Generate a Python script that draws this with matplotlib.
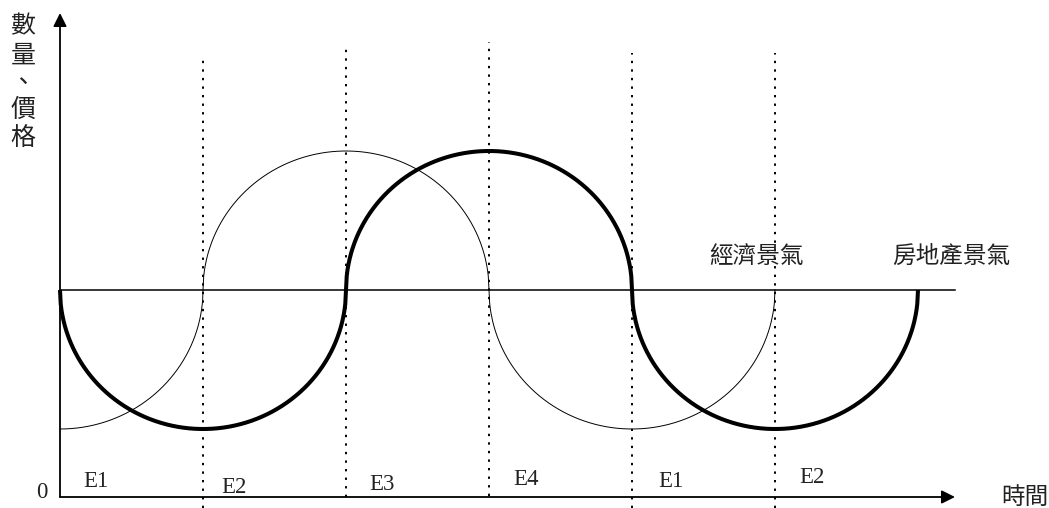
import numpy as np
import matplotlib
matplotlib.use("Agg")
import matplotlib.pyplot as plt

plt.rcParams['font.family'] = ['Noto Sans CJK TC', 'DejaVu Sans']

# ---- data (abstract units: 1 x-unit = one phase, 1 y-unit = cycle amplitude) ----
econ_centers = [0, 2, 4]          # 經濟景氣 half-cycle centres
econ_signs = [-1, 1, -1]
econ_starts = [0, 1, 3]
econ_ends = [1, 3, 5]

estate_centers = [1, 3, 5]        # 房地產景氣 half-cycle centres
estate_signs = [-1, 1, -1]
estate_starts = [0, 2, 4]
estate_ends = [2, 4, 6]

divider_x = [1, 2, 3, 4, 5]
divider_top = [1.66, 1.75, 1.785, 1.705, 1.705]
divider_bottom = [-1.57, -1.49, -1.48, -1.57, -1.57]

phase_labels = ['E1', 'E2', 'E3', 'E4', 'E1', 'E2']
phase_label_x = [0.25, 1.22, 2.25, 3.26, 4.27, 5.26]
phase_label_y = [-1.38, -1.42, -1.4, -1.36, -1.38, -1.35]

ylabel_chars = ['數', '量', '、', '價', '格']


def semicircle_curve(centers, signs, starts, ends):
    xs, ys = [], []
    for c, s, a, b in zip(centers, signs, starts, ends):
        x = np.linspace(a, b, 400)
        y = s * np.sqrt(np.clip(1 - (x - c) ** 2, 0, None))
        xs.append(x)
        ys.append(y)
    return np.concatenate(xs), np.concatenate(ys)


fig = plt.figure(figsize=(10.49, 5.08), dpi=100)
ax = fig.add_axes([0, 0, 1, 1])
ux = 143.0
uy = 139.0
x0_px, y0_px = 60.0, 290.0
ax.set_xlim(-x0_px / ux, (1049 - x0_px) / ux)
ax.set_ylim((y0_px - 508) / uy, y0_px / uy)
ax.axis('off')

# baseline
ax.plot([0, (955 - x0_px) / ux], [0, 0], color='black', lw=1.1)

# curves
ex, ey = semicircle_curve(econ_centers, econ_signs, econ_starts, econ_ends)
ax.plot(ex, ey, color='black', lw=0.7)
rx, ry = semicircle_curve(estate_centers, estate_signs, estate_starts, estate_ends)
ax.plot(rx, ry, color='black', lw=2.9, solid_capstyle='butt')

# dotted dividers
for x, t, b in zip(divider_x, divider_top, divider_bottom):
    ax.plot([x, x], [b, t], color='black', lw=1.4, linestyle=(0, (1.2, 3.2)))

# axes with arrows
xaxis_y = (y0_px - 497) / uy
ax.annotate('', xy=(0, (y0_px - 13) / uy), xytext=(0, xaxis_y),
            arrowprops=dict(arrowstyle='-|>', mutation_scale=20, lw=1.3, color='black',
                            shrinkA=0, shrinkB=0))
ax.annotate('', xy=((955 - x0_px) / ux, xaxis_y), xytext=(0, xaxis_y),
            arrowprops=dict(arrowstyle='-|>', mutation_scale=20, lw=1.3, color='black',
                            shrinkA=0, shrinkB=0))

serif = ['Liberation Serif', 'DejaVu Serif']
for lab, x, y in zip(phase_labels, phase_label_x, phase_label_y):
    ax.text(x, y, lab, family=serif, fontsize=16.5, ha='center', va='center', color='#222222')

ax.text((42 - x0_px) / ux, (y0_px - 492) / uy, '0', family=serif, fontsize=16.5,
        ha='center', va='center', color='#222222')
ax.text((1025 - x0_px) / ux, (y0_px - 497) / uy, '時間', fontsize=17,
        ha='center', va='center', color='#222222')
ax.text((756 - x0_px) / ux, (y0_px - 256) / uy, '經濟景氣', fontsize=17,
        ha='center', va='center', color='#222222')
ax.text((951 - x0_px) / ux, (y0_px - 256) / uy, '房地產景氣', fontsize=17,
        ha='center', va='center', color='#222222')

char_y_px = [26, 56, 83, 110, 138]
for ch, ypx in zip(ylabel_chars, char_y_px):
    ax.text((23 - x0_px) / ux, (y0_px - ypx) / uy, ch, fontsize=18,
            ha='center', va='center', color='#222222')

fig.savefig('out.png', dpi=100)
